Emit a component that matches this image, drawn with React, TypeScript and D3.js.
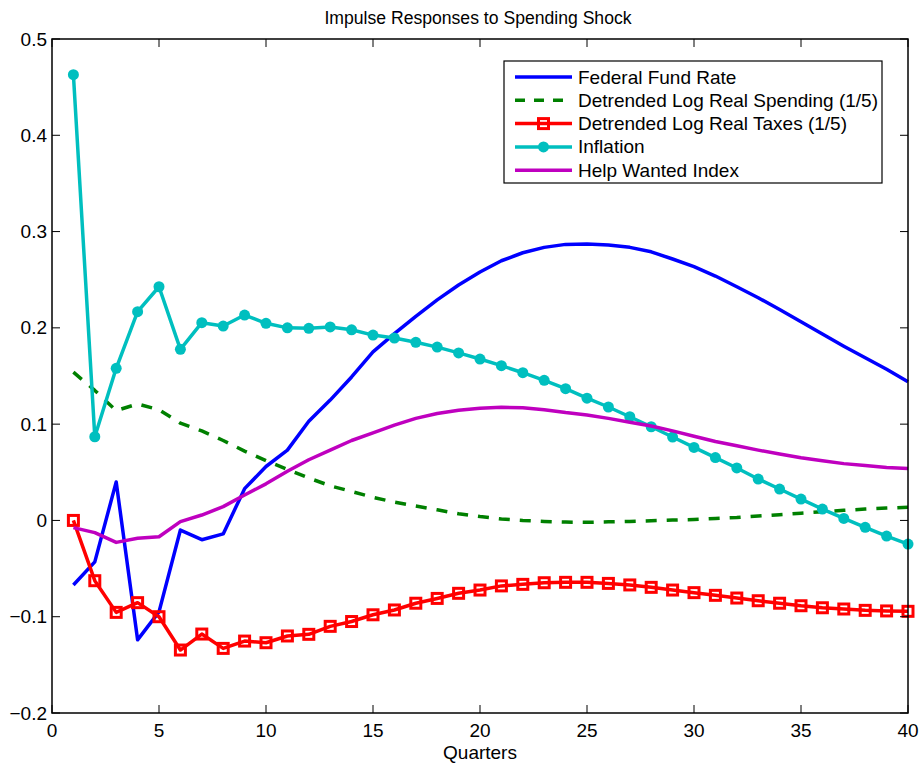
import React from "react";
import * as d3 from "d3";

const quarters = d3.range(1, 41);

const fedFundRate = [
  -0.067, -0.043, 0.040, -0.124, -0.095, -0.010, -0.020, -0.014, 0.033, 0.056,
  0.073, 0.103, 0.125, 0.149, 0.175, 0.194, 0.212, 0.229, 0.2445, 0.258,
  0.2697, 0.278, 0.2836, 0.2867, 0.287, 0.286, 0.2836, 0.279, 0.2715, 0.2635,
  0.2538, 0.2427, 0.2313, 0.219, 0.2064, 0.1936, 0.181, 0.169, 0.157, 0.144,
];

const spending = [
  0.154, 0.135, 0.114, 0.121, 0.115, 0.101, 0.093, 0.083, 0.072, 0.062,
  0.053, 0.044, 0.036, 0.030, 0.024, 0.019, 0.015, 0.011, 0.007, 0.004,
  0.0015, 0.0, -0.001, -0.0017, -0.002, -0.0015, -0.001, -0.0003, 0.0004, 0.001,
  0.002, 0.003, 0.0045, 0.006, 0.0075, 0.009, 0.0105, 0.0118, 0.0128, 0.0137,
];

const taxes = [
  0.0, -0.0626, -0.0955, -0.0854, -0.100, -0.1346, -0.118, -0.1329, -0.1253, -0.127,
  -0.120, -0.1183, -0.110, -0.105, -0.098, -0.093, -0.086, -0.081, -0.0757, -0.0723,
  -0.068, -0.0664, -0.0647, -0.0643, -0.0643, -0.0654, -0.067, -0.0695, -0.0723, -0.075,
  -0.0778, -0.0806, -0.0834, -0.086, -0.0886, -0.0907, -0.092, -0.0934, -0.094, -0.0944,
];

const inflation = [
  0.463, 0.0869, 0.158, 0.2168, 0.2427, 0.1777, 0.2054, 0.2019, 0.2133, 0.2047,
  0.200, 0.1995, 0.201, 0.198, 0.1925, 0.1894, 0.185, 0.180, 0.174, 0.1676,
  0.1607, 0.1534, 0.1455, 0.1368, 0.127, 0.1178, 0.1077, 0.0973, 0.0866, 0.0758,
  0.0653, 0.0545, 0.043, 0.0326, 0.0222, 0.0118, 0.0021, -0.0072, -0.0162, -0.0245,
];

const helpWanted = [
  -0.0075, -0.0127, -0.0228, -0.0186, -0.0169, -0.0013, 0.0056, 0.0143, 0.0264, 0.038,
  0.051, 0.063, 0.073, 0.083, 0.091, 0.099, 0.106, 0.111, 0.1145, 0.1165,
  0.1175, 0.117, 0.115, 0.112, 0.1095, 0.106, 0.102, 0.098, 0.093, 0.0875,
  0.082, 0.0775, 0.073, 0.069, 0.065, 0.062, 0.059, 0.057, 0.055, 0.054,
];

const xTicks = [0, 5, 10, 15, 20, 25, 30, 35, 40];
const yTicks = [-0.2, -0.1, 0, 0.1, 0.2, 0.3, 0.4, 0.5];

const seriesNames = [
  "Federal Fund Rate",
  "Detrended Log Real Spending (1/5)",
  "Detrended Log Real Taxes (1/5)",
  "Inflation",
  "Help Wanted Index",
];

const W = 921;
const H = 767;
const L = 52, R = 908, T = 39, B = 713;
const FONT = "'Liberation Sans', Arial, Helvetica, sans-serif";

export default function App() {
  const x = d3.scaleLinear().domain([0, 40]).range([L, R]);
  const y = d3.scaleLinear().domain([-0.2, 0.5]).range([B, T]);
  const line = (vals: number[]) =>
    d3.line<number>().x((_, i) => x(quarters[i])).y((v) => y(v))(vals) || "";

  const fmtY = (v: number) => {
    const s = d3.format(".1f")(Math.abs(v));
    const t = v === 0 ? "0" : s;
    return v < 0 ? "\u2212" + t : t;
  };

  const series = [
    { name: seriesNames[0], vals: fedFundRate, color: "#0000ff", dash: undefined as string | undefined, marker: "none" },
    { name: seriesNames[1], vals: spending, color: "#008000", dash: "11,10", marker: "none" },
    { name: seriesNames[2], vals: taxes, color: "#ff0000", dash: undefined, marker: "square" },
    { name: seriesNames[3], vals: inflation, color: "#00bfbf", dash: undefined, marker: "circle" },
    { name: seriesNames[4], vals: helpWanted, color: "#bf00bf", dash: undefined, marker: "none" },
  ];

  const tickLen = 8;
  const legX = 504, legY = 61, legW = 378, legH = 122;
  const rowY = (i: number) => legY + 16 + i * 23.3;

  const renderMarker = (m: string, cx: number, cy: number, color: string, key: string) => {
    if (m === "square")
      return (
        <rect key={key} x={cx - 5} y={cy - 5} width={10} height={10} fill="none" stroke={color} strokeWidth={3} />
      );
    if (m === "circle") return <circle key={key} cx={cx} cy={cy} r={5.5} fill={color} />;
    return null;
  };

  return (
    <svg width={W} height={H} style={{ position: "absolute", left: 0, top: 0, background: "#fff" }}>
      <rect x={0} y={0} width={W} height={H} fill="#fff" />
      <text x={(L + R) / 2 - 2} y={24} textAnchor="middle" fontFamily={FONT} fontSize={17.6}>
        Impulse Responses to Spending Shock
      </text>

      <g>
        {series.map((s) => (
          <g key={s.name}>
            <path d={line(s.vals)} fill="none" stroke={s.color} strokeWidth={3.5} strokeDasharray={s.dash} strokeLinejoin="round" />
            {s.marker !== "none" && s.vals.map((v, i) => renderMarker(s.marker, x(quarters[i]), y(v), s.color, s.name + i))}
          </g>
        ))}
      </g>

      <rect x={L} y={T} width={R - L} height={B - T} fill="none" stroke="#000" strokeWidth={1.5} />
      {xTicks.map((t) => (
        <g key={"x" + t}>
          <line x1={x(t)} x2={x(t)} y1={B} y2={B - tickLen} stroke="#000" strokeWidth={1} />
          <line x1={x(t)} x2={x(t)} y1={T} y2={T + tickLen} stroke="#000" strokeWidth={1} />
          <text x={x(t)} y={B + 24} textAnchor="middle" fontFamily={FONT} fontSize={19}>
            {String(t)}
          </text>
        </g>
      ))}
      {yTicks.map((t) => (
        <g key={"y" + t}>
          <line x1={L} x2={L + tickLen} y1={y(t)} y2={y(t)} stroke="#000" strokeWidth={1} />
          <line x1={R} x2={R - tickLen} y1={y(t)} y2={y(t)} stroke="#000" strokeWidth={1} />
          <text x={L - 5} y={y(t) + 6.5} textAnchor="end" fontFamily={FONT} fontSize={19}>
            {fmtY(t)}
          </text>
        </g>
      ))}
      <text x={(L + R) / 2} y={759} textAnchor="middle" fontFamily={FONT} fontSize={19}>
        Quarters
      </text>

      <rect x={legX} y={legY} width={legW} height={legH} fill="#fff" stroke="#000" strokeWidth={1.2} />
      {series.map((s, i) => (
        <g key={"leg" + i}>
          <line x1={515} x2={572} y1={rowY(i)} y2={rowY(i)} stroke={s.color} strokeWidth={3.5} strokeDasharray={s.dash ? "10,9" : undefined} />
          {renderMarker(s.marker, 543.5, rowY(i), s.color, "lm" + i)}
          <text x={578} y={rowY(i) + 6.5} fontFamily={FONT} fontSize={19}>
            {s.name}
          </text>
        </g>
      ))}
    </svg>
  );
}
